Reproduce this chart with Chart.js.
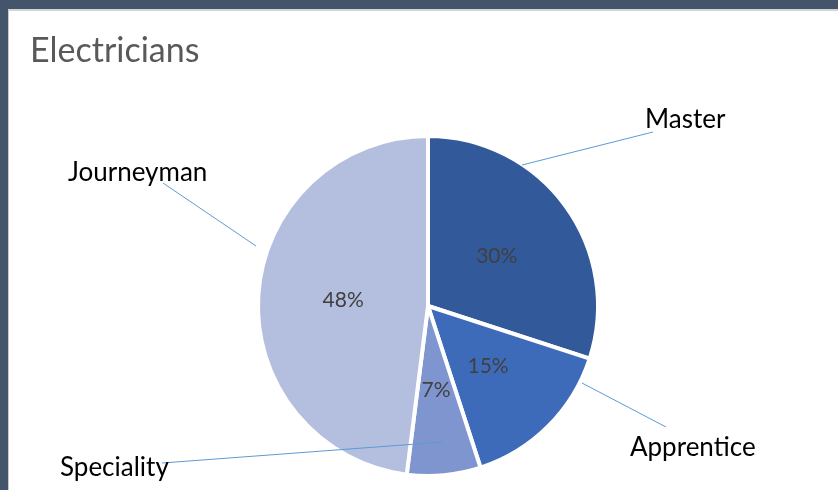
<!DOCTYPE html>
<html>
<head>
<meta charset="utf-8">
<script src="https://cdn.jsdelivr.net/npm/chart.js@4"></script>
<style>
  html, body { margin: 0; padding: 0; }
  body { width: 838px; height: 490px; background: #44546a; overflow: hidden; position: relative; }
  #panel { position: absolute; left: 8px; top: 9px; width: 900px; height: 600px; background: #fff;
           border-left: 1px solid #c8c8c8; border-top: 2px solid #d4d4d4; }
  #wrap { position: absolute; left: 0; top: 0; width: 838px; height: 490px; }
</style>
</head>
<body>
<div id="panel"></div>
<div id="wrap"><canvas id="pieChart" width="838" height="490"></canvas></div>
<script>
const categories = ["Master", "Apprentice", "Speciality", "Journeyman"];
const shares = [30, 15, 7, 48];
const sliceColors = ["#32599a", "#3e6bb9", "#7f95cf", "#b4bedf"];

// where each outer label and its leader line sit, in px from the pie centre
const labelSpots = [
  { text: [217, -178], from: [94, -141], to: [225, -174] },
  { text: [202, 150], from: [154, 77], to: [238, 121] },
  { text: [-368, 170], from: [15, 136], to: [-266, 157] },
  { text: [-360, -125], from: [-172, -60], to: [-265, -123] },
];

const labelFont = "26px Lato, 'Open Sans', sans-serif";
const pctFont = "21px Lato, 'Open Sans', sans-serif";

const pieLabels = {
  id: "pieLabels",
  afterDatasetsDraw(chart) {
    const ctx = chart.ctx;
    const arcs = chart.getDatasetMeta(0).data;
    if (!arcs.length) return;
    const cx = arcs[0].x;
    const cy = arcs[0].y;
    ctx.save();

    // percentages inside the slices
    ctx.font = pctFont;
    ctx.fillStyle = "#404040";
    ctx.textAlign = "center";
    ctx.textBaseline = "middle";
    arcs.forEach((arc, i) => {
      const p = arc.tooltipPosition();
      ctx.fillText(shares[i] + "%", p.x, p.y);
    });

    // leader lines
    ctx.strokeStyle = "#5b9bd5";
    ctx.lineWidth = 1;
    labelSpots.forEach((s) => {
      ctx.beginPath();
      ctx.moveTo(cx + s.from[0], cy + s.from[1]);
      ctx.lineTo(cx + s.to[0], cy + s.to[1]);
      ctx.stroke();
    });

    // category names
    ctx.font = labelFont;
    ctx.fillStyle = "#000";
    ctx.textAlign = "left";
    ctx.textBaseline = "alphabetic";
    labelSpots.forEach((s, i) => {
      ctx.fillText(categories[i], cx + s.text[0], cy + s.text[1]);
    });
    ctx.restore();
  },
};

new Chart(document.getElementById("pieChart"), {
  type: "pie",
  data: {
    labels: categories,
    datasets: [
      {
        data: shares,
        backgroundColor: sliceColors,
        borderColor: "#ffffff",
        borderWidth: 4,
      },
    ],
  },
  options: {
    responsive: false,
    animation: false,
    layout: { padding: { left: 30, right: 12, top: 0, bottom: 12 } },
    plugins: {
      legend: { display: false },
      tooltip: { enabled: false },
      title: {
        display: true,
        text: "Electricians",
        align: "start",
        color: "#595959",
        font: { family: "Lato, 'Open Sans', sans-serif", size: 34, weight: "normal", lineHeight: 1.2 },
        padding: { top: 31, bottom: 62.2 },
      },
    },
  },
  plugins: [pieLabels],
});
</script>
</body>
</html>
